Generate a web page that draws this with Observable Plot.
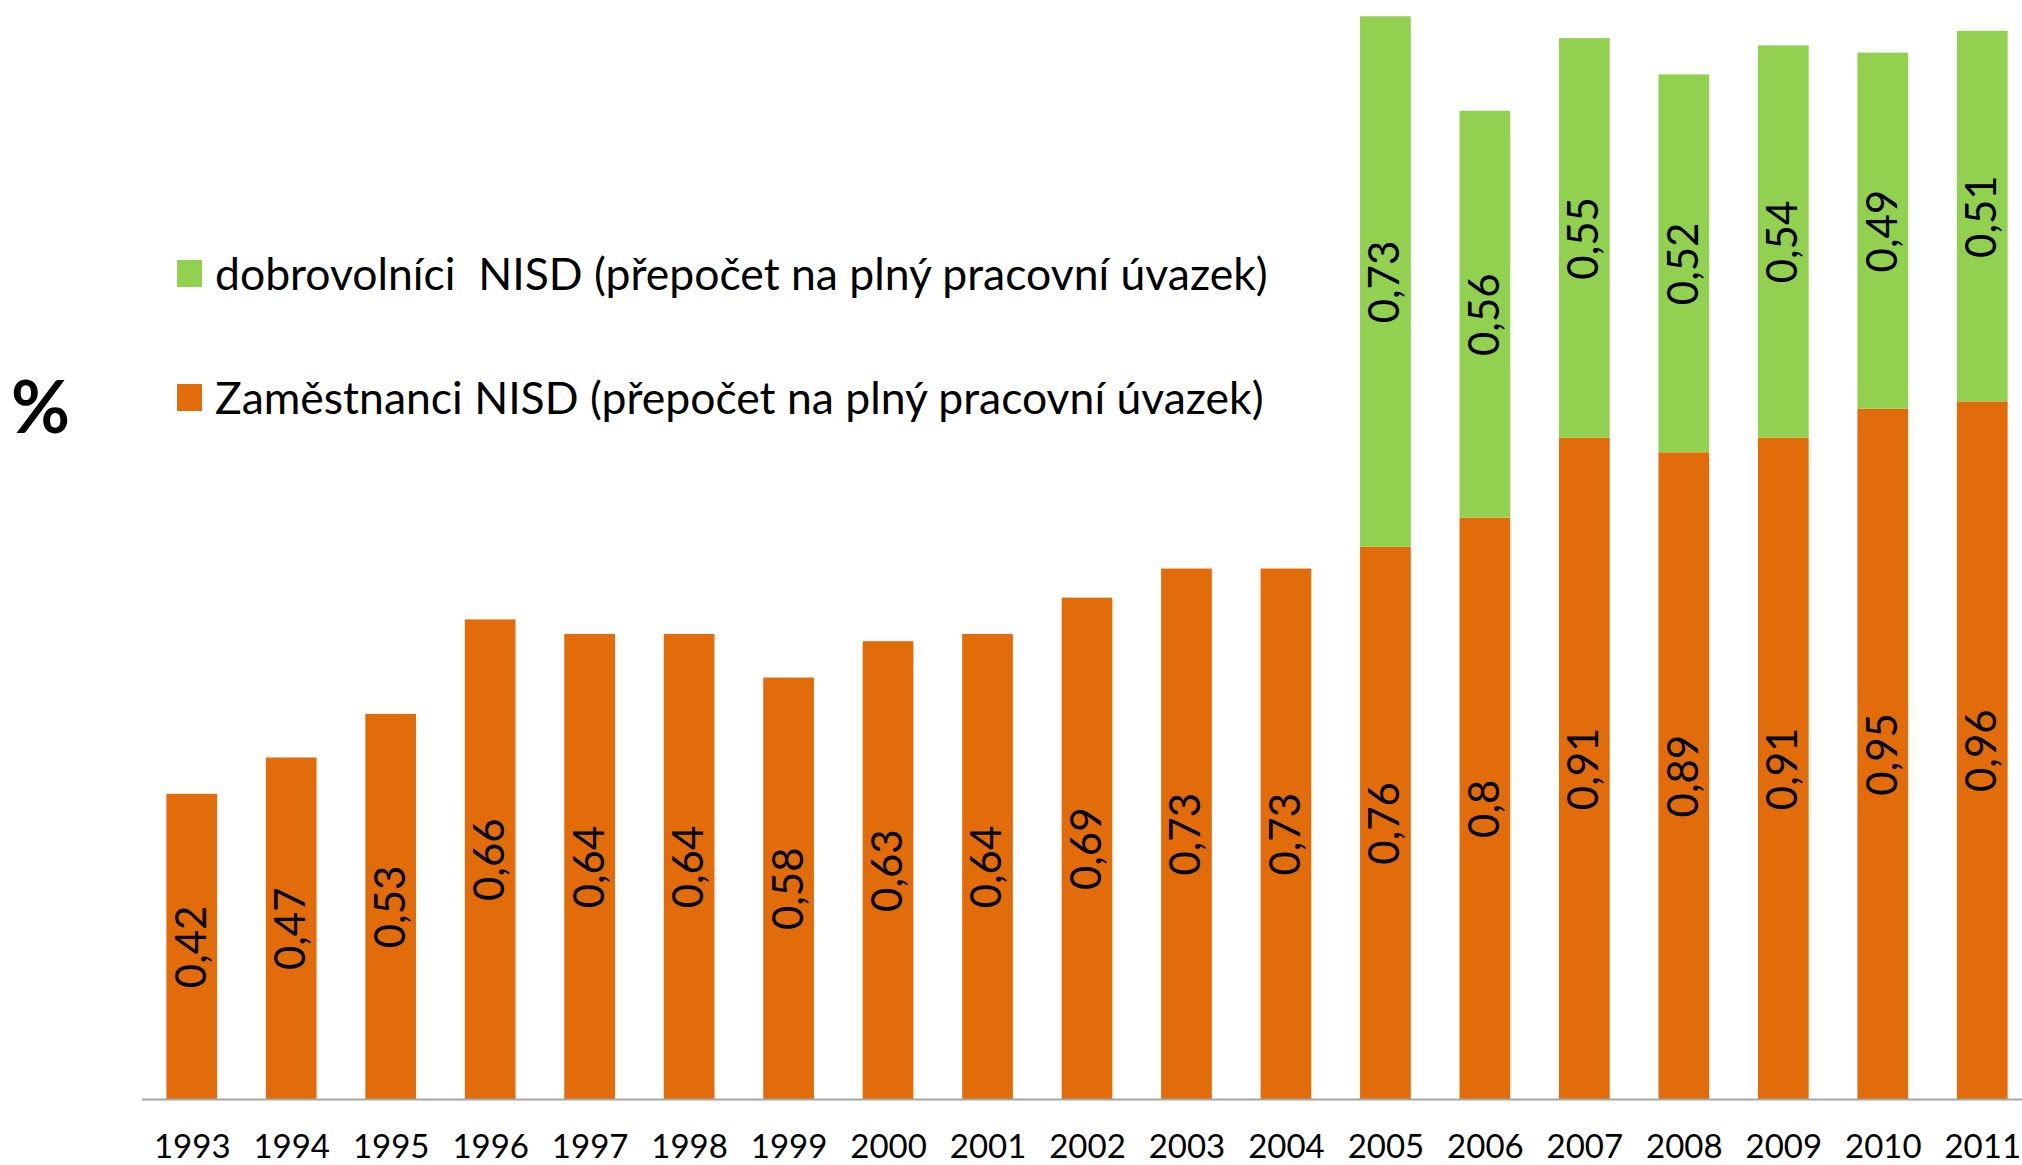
<!DOCTYPE html>
<html>
<head>
<meta charset="utf-8">
<script src="https://cdn.jsdelivr.net/npm/d3@7"></script>
<script src="https://cdn.jsdelivr.net/npm/@observablehq/plot@0.6"></script>
<style>
  html, body { margin: 0; padding: 0; background: white; overflow: hidden; }
  #wrap { position: relative; width: 2022px; height: 1165px; font-family: "Lato", sans-serif; color: #000; }
  #chart { position: absolute; left: 0; top: 0; }
  .leg { position: absolute; left: 177px; display: flex; align-items: center; white-space: pre; font-size: 44.5px; line-height: 1; }
  .sw { width: 25px; height: 27px; margin-right: 13px; }
  #pct { position: absolute; left: 11px; top: 369px; font-size: 72px; font-weight: bold; line-height: 1; }
</style>
</head>
<body>
<div id="wrap">
  <div id="chart"></div>
  <div id="pct">%</div>
  <div class="leg" id="leg1" style="top:251px"><div class="sw" id="sw1"></div><span id="t1"></span></div>
  <div class="leg" id="leg2" style="top:375px"><div class="sw" id="sw2"></div><span id="t2"></span></div>
</div>
<script>
const years = ["1993","1994","1995","1996","1997","1998","1999","2000","2001","2002","2003","2004","2005","2006","2007","2008","2009","2010","2011"];
const employees = [0.42,0.47,0.53,0.66,0.64,0.64,0.58,0.63,0.64,0.69,0.73,0.73,0.76,0.8,0.91,0.89,0.91,0.95,0.96];
const volunteers = [null,null,null,null,null,null,null,null,null,null,null,null,0.73,0.56,0.55,0.52,0.54,0.49,0.51];
const seriesNames = ["Zaměstnanci NISD (přepočet na plný pracovní úvazek)", "dobrovolníci  NISD (přepočet na plný pracovní úvazek)"];
const seriesColors = ["#E36C0A", "#92D050"];

const rows = [];
years.forEach((y, i) => { if (employees[i] != null) rows.push({year: y, series: seriesNames[0], value: employees[i]}); });
years.forEach((y, i) => { if (volunteers[i] != null) rows.push({year: y, series: seriesNames[1], value: volunteers[i]}); });

const fmt = v => String(v).replace(".", ",");

const chart = Plot.plot({
  width: 2022,
  height: 1165,
  marginLeft: 142,
  marginRight: 0,
  marginTop: 9,
  marginBottom: 66,
  style: {fontFamily: '"Lato", sans-serif', fontSize: "33px", color: "#000", background: "white", overflow: "visible"},
  x: {domain: years, range: [142, 2032], paddingInner: 0.49, paddingOuter: 0.245, round: false, tickSize: 0, tickPadding: 35, label: null},
  y: {domain: [0, 1.5], axis: null},
  color: {domain: seriesNames, range: seriesColors},
  marks: [
    Plot.barY(rows, {x: "year", y: "value", fill: "series"}),
    Plot.text(rows, Plot.stackY({x: "year", y: "value", text: d => fmt(d.value), rotate: -90, fontSize: 42, fill: "#000"})),
    Plot.ruleY([0], {stroke: "#a6a6a6", strokeWidth: 2})
  ]
});
document.getElementById("chart").appendChild(chart);

document.getElementById("sw1").style.background = seriesColors[1];
document.getElementById("sw2").style.background = seriesColors[0];
document.getElementById("t1").textContent = seriesNames[1];
document.getElementById("t2").textContent = seriesNames[0];
</script>
</body>
</html>
